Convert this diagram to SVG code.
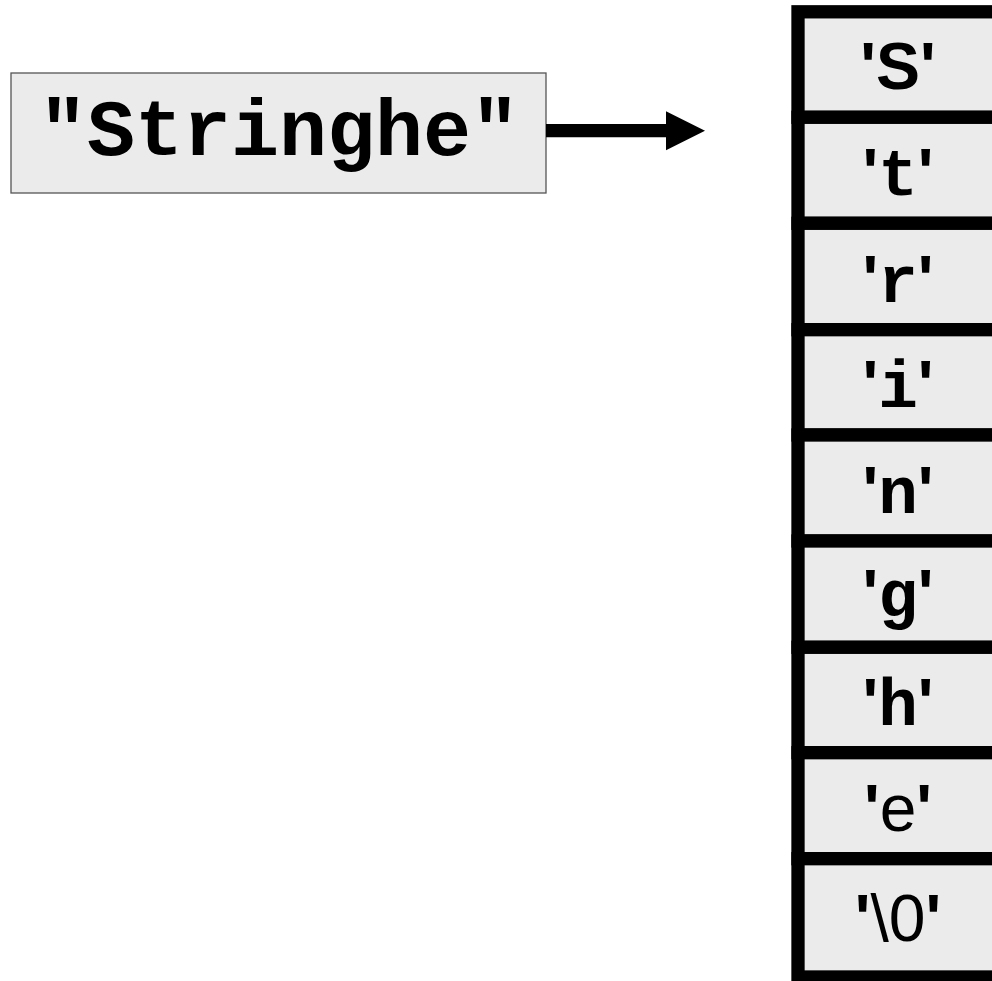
<svg xmlns="http://www.w3.org/2000/svg" width="992" height="981" viewBox="0 0 992 981">
<style>
.cell{fill:#ebebeb;stroke:#000;stroke-width:13.3}
.m{font-family:"Liberation Mono","Courier New",monospace;font-weight:bold}
.q{font-family:"Liberation Sans",Arial,sans-serif;font-weight:bold}
.s{font-family:"Liberation Sans",Arial,sans-serif;font-weight:normal}
.t{font-size:66px;text-anchor:middle;fill:#000}
</style>
<defs>
<marker id="ah" markerUnits="userSpaceOnUse" markerWidth="40" markerHeight="40" viewBox="0 0 40 40" refX="0" refY="20" orient="auto">
<path d="M0,0.5 L39,20 L0,39.5 Z" fill="#000"/>
</marker>
</defs>
<rect width="992" height="981" fill="#fff"/>
<g id="string">
<rect x="11" y="73" width="535" height="120" fill="#ebebeb" stroke="#555" stroke-width="1.3"/>
<text x="279" y="155" class="m" font-size="80" text-anchor="middle">"Stringhe"</text>
</g>
<g id="connectors">
<line x1="546" y1="130.7" x2="666" y2="130.7" stroke="#000" stroke-width="13.3" marker-end="url(#ah)"/>
</g>
<g id="cell0"><rect class="cell" x="798" y="11.8" width="220" height="105.5"/><text class="t m" x="898" y="89"><tspan class="q">'</tspan><tspan class="q">S</tspan><tspan class="q">'</tspan></text></g>
<g id="cell1"><rect class="cell" x="798" y="117.3" width="220" height="106"/><text class="t m" x="898" y="195"><tspan class="q">'</tspan>t<tspan class="q">'</tspan></text></g>
<g id="cell2"><rect class="cell" x="798" y="223.3" width="220" height="106.4"/><text class="t m" x="898" y="302"><tspan class="q">'</tspan>r<tspan class="q">'</tspan></text></g>
<g id="cell3"><rect class="cell" x="798" y="329.7" width="220" height="105.3"/><text class="t m" x="898" y="407"><tspan class="q">'</tspan>i<tspan class="q">'</tspan></text></g>
<g id="cell4"><rect class="cell" x="798" y="435" width="220" height="106"/><text class="t m" x="898" y="513"><tspan class="q">'</tspan>n<tspan class="q">'</tspan></text></g>
<g id="cell5"><rect class="cell" x="798" y="541" width="220" height="106.3"/><text class="t m" x="898" y="616"><tspan class="q">'</tspan>g<tspan class="q">'</tspan></text></g>
<g id="cell6"><rect class="cell" x="798" y="647.3" width="220" height="105.4"/><text class="t m" x="898" y="725"><tspan class="q">'</tspan>h<tspan class="q">'</tspan></text></g>
<g id="cell7"><rect class="cell" x="798" y="752.7" width="220" height="106"/><text class="t m" x="898" y="831"><tspan class="q">'</tspan><tspan class="s">e</tspan><tspan class="q">'</tspan></text></g>
<g id="cell8"><rect class="cell" x="798" y="858.7" width="220" height="118.3"/><text class="t m" x="898" y="941"><tspan class="q">'</tspan><tspan class="s">\0</tspan><tspan class="q">'</tspan></text></g>
</svg>
